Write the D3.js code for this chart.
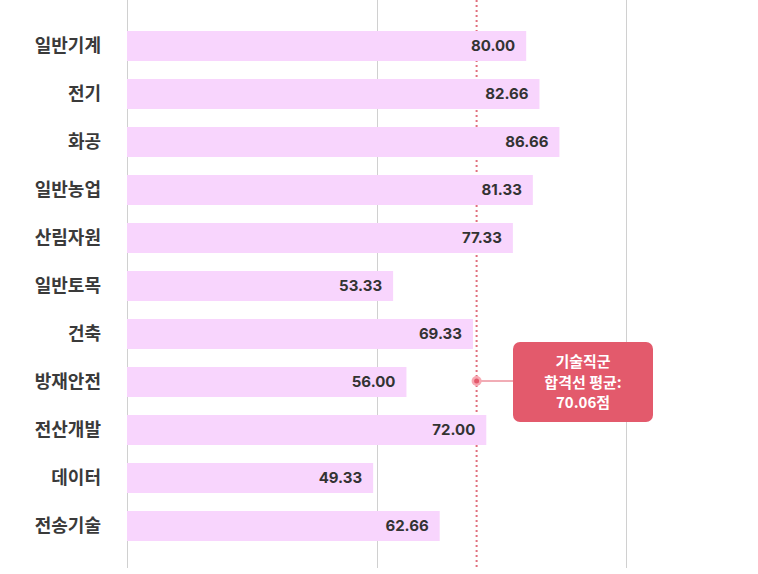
<!DOCTYPE html>
<html><head><meta charset="utf-8">
<script src="https://cdn.jsdelivr.net/npm/d3@7"></script>
<style>body{margin:0;background:#fff}svg{display:block}</style>
</head><body><svg id="c" width="758" height="574"></svg>
<script>
const categories = ["일반기계","전기","화공","일반농업","산림자원","일반토목","건축","방재안전","전산개발","데이터","전송기술"];
const values = [80.00,82.66,86.66,81.33,77.33,53.33,69.33,56.00,72.00,49.33,62.66];
const average = 70.06;
const gridTicks = [0,50,100];
const annotationLines = ["기술직군","합격선 평균:","70.06점"];

const svg = d3.select("#c");
const font = "'Noto Sans CJK KR','Noto Sans',sans-serif";
const numFont = "Inter,'Noto Sans CJK KR',sans-serif";
const x = d3.scaleLinear().domain([0,100]).range([127,626]);
const y = d3.scaleBand().domain(categories).range([22,550]).paddingInner(0.375).paddingOuter(0.1875);

svg.append("g").selectAll("line").data(gridTicks).join("line")
  .attr("x1",d=>Math.round(x(d))+0.5).attr("x2",d=>Math.round(x(d))+0.5)
  .attr("y1",0).attr("y2",568).attr("stroke","#d0d0d0").attr("stroke-width",1);

const ax = x(average);
svg.append("line").attr("x1",ax).attr("x2",ax).attr("y1",0).attr("y2",568)
  .attr("stroke","#e0707e").attr("stroke-width",2).attr("stroke-dasharray","2,3");

svg.append("g").selectAll("rect").data(values).join("rect")
  .attr("x",x(0)).attr("y",(d,i)=>y(categories[i]))
  .attr("width",d=>x(d)-x(0)).attr("height",y.bandwidth())
  .attr("fill","#f8d5fd");

svg.append("g").selectAll("text").data(values).join("text")
  .attr("x",d=>x(d)-11).attr("y",(d,i)=>y(categories[i])+y.bandwidth()/2)
  .attr("dy","0.36em").attr("text-anchor","end")
  .attr("font-family",numFont).attr("font-weight","bold").attr("font-size",15).attr("fill","#333")
  .text(d=>d.toFixed(2));

svg.append("g").selectAll("text").data(categories).join("text")
  .attr("x",101).attr("y",d=>y(d)+y.bandwidth()/2)
  .attr("dy","0.36em").attr("text-anchor","end")
  .attr("font-family",font).attr("font-weight","bold").attr("font-size",18).attr("fill","#3a3a3a")
  .text(d=>d);

const my = 381;
svg.append("line").attr("x1",ax).attr("x2",513).attr("y1",my).attr("y2",my)
  .attr("stroke","#e35a6c").attr("stroke-width",1);
svg.append("circle").attr("cx",ax).attr("cy",my).attr("r",5).attr("fill","#f7a8b2");
svg.append("circle").attr("cx",ax).attr("cy",my).attr("r",2.5).attr("fill","#e35a6c");

svg.append("rect").attr("x",513).attr("y",342).attr("width",140).attr("height",80)
  .attr("rx",7).attr("fill","#e35a6c");
svg.append("g").selectAll("text").data(annotationLines).join("text")
  .attr("x",583).attr("y",(d,i)=>362+i*20.5).attr("dy","0.35em").attr("text-anchor","middle")
  .attr("font-family",font).attr("font-weight","bold").attr("font-size",15).attr("fill","#fff")
  .text(d=>d);
</script></body></html>
